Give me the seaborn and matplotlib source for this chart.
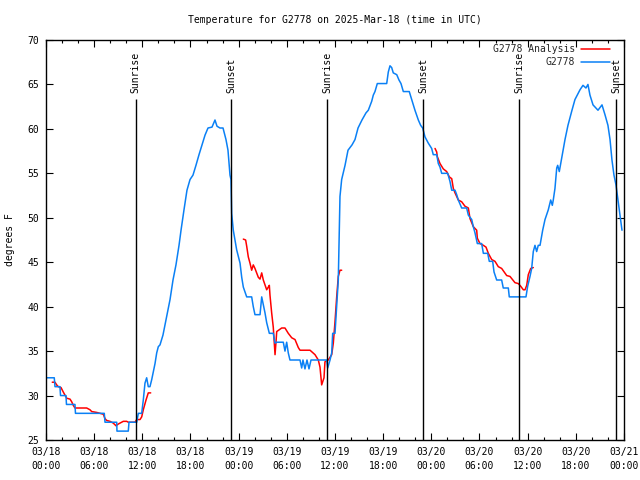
import numpy as np
import pandas as pd
import matplotlib
matplotlib.use("Agg")
import matplotlib.pyplot as plt
import seaborn as sns
from matplotlib.lines import Line2D

# ---- data (hours since 2025-03-18 00:00 UTC, degrees F) ----
obs_hours = [0.12, 1.03, 1.12, 1.74, 1.81, 2.49, 2.55, 3.61, 3.67, 7.26, 7.35, 8.81, 8.84,
             10.25, 10.34, 11.30, 11.50, 11.71, 11.92, 12.12, 12.33, 12.54, 12.74, 12.95,
             13.17, 13.37, 13.58, 13.79, 13.99, 14.20, 14.57, 14.95, 15.45, 15.82, 16.19,
             16.57, 16.82, 17.19, 17.56, 17.94, 18.31, 18.68, 19.06, 19.43, 19.81, 20.18,
             20.68, 21.05, 21.30, 21.67, 22.05, 22.42, 22.67, 22.92, 23.04, 23.13, 23.33,
             23.54, 23.75, 24.17, 24.38, 24.58, 25.00, 25.62, 25.82, 26.03, 26.66, 26.87,
             27.07, 27.28, 27.49, 27.82, 28.31, 28.53, 28.74, 29.56, 29.77, 29.98, 30.18,
             30.39, 31.64, 31.85, 32.01, 32.26, 32.51, 32.76, 33.01, 33.30, 34.96, 35.09,
             35.38, 35.59, 35.71, 36.00, 36.21, 36.41, 36.54, 36.62, 36.83, 37.25, 37.62,
             38.12, 38.49, 38.87, 39.36, 39.86, 40.15, 40.57, 40.77, 40.98, 41.27, 42.44,
             42.64, 42.85, 43.06, 43.26, 43.69, 43.97, 44.22, 44.51, 45.25, 45.55, 45.96,
             46.38, 46.67, 46.92, 47.21, 47.62, 48.04, 48.24, 48.67, 48.87, 49.08, 49.29,
             50.04, 50.32, 50.54, 50.95, 51.16, 51.36, 51.78, 52.40, 52.61, 53.03, 53.23,
             53.44, 53.73, 54.27, 54.48, 55.02, 55.22, 55.64, 55.81, 56.14, 56.76, 56.96,
             57.59, 57.71, 59.79, 60.00, 60.29, 60.50, 60.70, 60.91, 61.12, 61.32, 61.54,
             61.87, 62.16, 62.57, 62.87, 63.07, 63.19, 63.40, 63.62, 63.74, 63.94, 64.65,
             65.02, 65.52, 65.89, 66.52, 66.89, 67.26, 67.51, 67.76, 68.14, 68.76, 69.26,
             69.63, 70.00, 70.26, 70.50, 70.75, 71.00, 71.25, 71.50, 71.75]
obs_temps = [32, 32, 31, 31, 30, 30, 29, 29, 28, 28, 27, 27, 26,
             26, 27, 27, 28, 28, 28, 29.5, 31.4, 32, 31, 31,
             31.8, 32.7, 33.6, 34.8, 35.5, 35.7, 36.8, 38.5, 40.8, 43, 44.7,
             46.9, 48.6, 50.9, 53.1, 54.3, 54.8, 55.9, 57.1, 58.2, 59.3, 60.1,
             60.2, 61, 60.3, 60.1, 60.1, 58.8, 57.6, 54.8, 54.3, 50.5, 48.6,
             47.5, 46.4, 44.9, 43.3, 42.2, 41.1, 41.1, 40, 39.1, 39.1, 41.1,
             40.2, 39.3, 38.2, 37, 37, 35.9, 36, 36, 35, 36, 34.8,
             34, 34, 33.1, 34, 33, 34, 33, 34, 34, 34, 33.1,
             34, 34.8, 37, 37, 40, 43, 48.6, 52.4, 54.3, 55.9, 57.6,
             58.2, 58.8, 60.1, 61, 61.8, 62.1, 63.1, 63.8, 64.2, 65.1, 65.1,
             66.4, 67.1, 66.9, 66.3, 66.1, 65.5, 65.1, 64.2, 64.2, 63.3, 62.1,
             61, 60.4, 60.1, 59.1, 58.4, 57.8, 57.1, 57.1, 56.1, 55.7, 55,
             55, 54.1, 53.1, 53.1, 52.6, 52, 51.1, 51.1, 50.3, 49.8, 49,
             48.3, 47.1, 47.1, 46, 46, 45.1, 45.1, 43.9, 43, 43, 42.1,
             42.1, 41.1, 41.1, 42.3, 43.4, 44.3, 46.2, 46.9, 46.2, 46.9, 46.9,
             48.6, 49.8, 50.9, 52, 51.4, 52, 53.3, 55.6, 55.9, 55.2, 58.8,
             60.4, 62.1, 63.3, 64.4, 64.9, 64.6, 65, 63.8, 62.7, 62.1, 62.7,
             61.6, 60.4, 58.8, 56.5, 54.8, 53.7, 52, 50.3, 48.6]

ana1_hours = [0.78, 1.12, 1.33, 1.53, 1.87, 2.15, 2.58, 2.99, 3.20, 3.40, 3.61, 5.07, 5.48,
              5.69, 6.32, 7.14, 7.35, 7.56, 7.97, 8.38, 8.72, 9.01, 9.63, 10.05, 10.25,
              11.09, 11.30, 11.71, 11.92, 12.12, 12.46, 12.74, 13.04]
ana1_temps = [31.5, 31.5, 31.2, 31, 30.9, 30.4, 29.7, 29.6, 29.3, 28.9, 28.6, 28.6, 28.4,
              28.2, 28.1, 27.9, 27.4, 27.2, 27.1, 26.9, 26.6, 26.8, 27.1, 27.1, 27,
              27, 27.3, 27.3, 27.6, 28.4, 29.5, 30.3, 30.3]
ana2_hours = [24.58, 24.87, 25.00, 25.20, 25.41, 25.62, 25.82, 26.03, 26.45, 26.66, 26.87,
              27.07, 27.49, 27.69, 27.82, 27.90, 28.11, 28.31, 28.53, 28.65, 28.74, 29.36,
              29.77, 30.18, 30.61, 31.02, 31.43, 31.64, 32.89, 33.51, 33.92, 34.13, 34.34,
              34.63, 34.75, 35.16, 35.59, 35.79, 36.00, 36.21, 36.41, 36.62, 36.83]
ana2_temps = [47.6, 47.5, 46.8, 45.6, 44.9, 44.1, 44.7, 44.3, 43.3, 43.1, 43.8,
              43, 41.9, 42.2, 42.4, 41.3, 39.3, 37.7, 34.6, 36, 37.2, 37.6,
              37.6, 37, 36.5, 36.3, 35.4, 35.1, 35.1, 34.6, 34, 33.2, 31.2,
              32, 33.8, 34, 34.6, 35.9, 38.3, 41.1, 43.4, 44.1, 44.1]
ana3_hours = [48.46, 48.67, 48.74, 49.08, 49.49, 49.91, 50.24, 50.54, 50.74, 50.95, 51.36,
              51.78, 52.19, 52.61, 52.82, 53.23, 53.65, 53.73, 54.06, 54.48, 54.81, 55.10,
              55.52, 55.93, 56.34, 56.76, 57.39, 57.80, 58.42, 58.83, 59.13, 59.46, 59.67,
              59.88, 60.08, 60.38, 60.70]
ana3_temps = [57.8, 57.4, 56.9, 56.1, 55.5, 55.2, 54.6, 54.4, 53.3, 52.8, 52,
              51.8, 51.3, 51.1, 49.9, 49, 48.6, 47.7, 47.1, 46.9, 46.7, 46,
              45.3, 45.1, 44.5, 44.3, 43.5, 43.4, 42.7, 42.6, 42.3, 41.9, 41.9,
              42.4, 43.6, 44.3, 44.4]

sun_hours = [11.15, 23.05, 35.05, 47.0, 58.95, 71.0]
sun_labels = ["Sunrise", "Sunset", "Sunrise", "Sunset", "Sunrise", "Sunset"]

tick_hours = [0, 6, 12, 18, 24, 30, 36, 42, 48, 54, 60, 66, 72]
tick_labels = ["03/18\n00:00", "03/18\n06:00", "03/18\n12:00", "03/18\n18:00",
               "03/19\n00:00", "03/19\n06:00", "03/19\n12:00", "03/19\n18:00",
               "03/20\n00:00", "03/20\n06:00", "03/20\n12:00", "03/20\n18:00",
               "03/21\n00:00"]
y_ticks = [25, 30, 35, 40, 45, 50, 55, 60, 65, 70]

title = "Temperature for G2778 on 2025-Mar-18 (time in UTC)"
series_ana = "G2778 Analysis"
series_obs = "G2778"

# ---- build tables ----
obs = pd.DataFrame({"hour": obs_hours, "temp": obs_temps})
ana = pd.concat([
    pd.DataFrame({"hour": ana1_hours, "temp": ana1_temps, "seg": 1}),
    pd.DataFrame({"hour": ana2_hours, "temp": ana2_temps, "seg": 2}),
    pd.DataFrame({"hour": ana3_hours, "temp": ana3_temps, "seg": 3}),
], ignore_index=True)

sns.set_theme(style="white")
FONT = "DejaVu Sans Mono"
plt.rcParams["font.family"] = [FONT, "DejaVu Sans"]
FS = 7

fig = plt.figure(figsize=(6.4, 4.8), dpi=100)
ax = fig.add_axes([46 / 640, 40 / 480, 578 / 640, 400 / 480])

RED = "#ff0000"
BLUE = "#0a80f5"

sns.lineplot(data=ana, x="hour", y="temp", units="seg", estimator=None, sort=False,
             color=RED, lw=1.1, ax=ax)
sns.lineplot(data=obs, x="hour", y="temp", estimator=None, sort=False,
             color=BLUE, lw=1.1, ax=ax)

# sunrise / sunset markers
for h, lab in zip(sun_hours, sun_labels):
    ax.vlines(h, 25, 63.35, color="black", lw=1.0, zorder=3)
    ax.text(h, 64.05, lab, rotation=90, ha="center", va="bottom", fontsize=FS,
            family=FONT, color="black")

ax.set_xlim(0, 72)
ax.set_ylim(25, 70)
ax.set_xticks(tick_hours)
ax.set_xticklabels(tick_labels, fontsize=FS, family=FONT, linespacing=1.45)
ax.set_xticks(np.arange(0, 73, 2), minor=True)
ax.set_yticks(y_ticks)
ax.set_yticklabels([str(v) for v in y_ticks], fontsize=FS, family=FONT)

ax.tick_params(axis="both", which="major", direction="in", length=5, width=0.8,
               top=True, right=True, bottom=True, left=True, color="black",
               labelcolor="black")
ax.tick_params(axis="x", which="major", pad=5)
ax.tick_params(axis="y", which="major", pad=5)
ax.tick_params(axis="x", which="minor", direction="in", length=2.5, width=0.8,
               top=True, bottom=True, color="black")

for s in ax.spines.values():
    s.set_color("black")
    s.set_linewidth(1.0)
    s.set_visible(True)

ax.set_xlabel("")
ax.set_ylabel("degrees F", fontsize=FS, family=FONT, color="black", va="center")
ax.yaxis.set_label_coords(-0.062, 0.5)
ax.set_title(title, fontsize=FS, family=FONT, color="black", pad=12)

handles = [Line2D([], [], color=RED, lw=1.1), Line2D([], [], color=BLUE, lw=1.1)]
leg = ax.legend(handles, [series_ana, series_obs], loc="upper right",
                bbox_to_anchor=(0.988, 1.006), frameon=False,
                markerfirst=False, handlelength=3.0, handletextpad=0.6,
                labelspacing=0.3, borderaxespad=0.3, prop={"family": FONT, "size": FS})
leg.set_zorder(5)

fig.savefig("out.png", dpi=100, facecolor="white")
